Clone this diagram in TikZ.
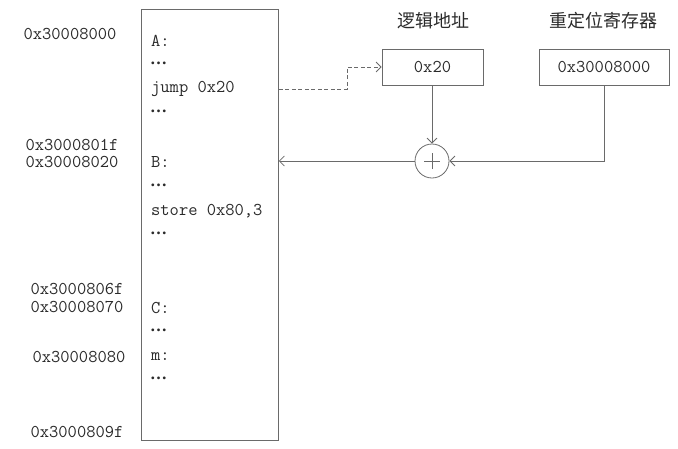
\documentclass[tikz,border=0pt]{standalone}
\usepackage{fontspec}
\newfontfamily\cjk{Noto Sans CJK SC}
\newfontfamily\ser{Liberation Serif}
\usetikzlibrary{arrows.meta}
\definecolor{ln}{HTML}{6A6A6A}
\definecolor{tx}{HTML}{2A2A2A}
\tikzset{
  lat/.style={text=tx, inner sep=0pt, font=\ttfamily\fontsize{18}{18}\selectfont},
  code/.style={lat, anchor=west},
  addr/.style={lat},
  dots/.style={text=tx, inner sep=0pt, anchor=west, font=\ser\bfseries\fontsize{17}{17}\selectfont},
  cn/.style={text=tx, inner sep=0pt, font=\cjk\fontsize{18}{18}\selectfont},
  regbox/.style={draw=ln, line width=0.8pt, minimum height=36, inner sep=0pt, lat},
  conn/.style={draw=ln, line width=0.8pt, -{Straight Barb[length=5pt,width=10pt]}},
}
\begin{document}
\begin{tikzpicture}[x=1pt,y=-1pt]
\useasboundingbox (0,0) rectangle (678,448);
% memory block
\node[draw=ln, line width=0.8pt, minimum width=137, minimum height=431, anchor=north west, inner sep=0pt] (mem) at (141,9) {};
% addresses
\node[addr] (a0) at (70,34) {0x30008000};
\node[addr] (a1) at (72,145) {0x3000801f};
\node[addr] (a2) at (72,162) {0x30008020};
\node[addr] (a3) at (77,289) {0x3000806f};
\node[addr] (a4) at (77,307) {0x30008070};
\node[addr] (a5) at (79,357) {0x30008080};
\node[addr] (a6) at (77,432) {0x3000809f};
% code
\node[code] (cA) at (151,41) {A:};
\node[dots] (d1) at (150,63) {…};
\node[code] (jmp) at (151,89) {jump 0x20};
\node[dots] (d2) at (150,111) {…};
\node[code] (cB) at (151,162) {B:};
\node[dots] (d3) at (150,185) {…};
\node[code] (st) at (151,211) {store 0x80,3};
\node[dots] (d4) at (150,233) {…};
\node[code] (cC) at (151,308) {C:};
\node[dots] (d5) at (150,330) {…};
\node[code] (cm) at (151,357) {m:};
\node[dots] (d6) at (150,378) {…};
% right side
\node[cn] (t1) at (433,21) {逻辑地址};
\node[cn] (t2) at (603,21) {重定位寄存器};
\node[regbox, minimum width=101] (lg) at (432.5,67) {0x20};
\node[regbox, minimum width=130] (rr) at (604,67) {0x30008000};
\node[circle, draw=ln, line width=0.8pt, minimum size=34, inner sep=0pt] (plus) at (432,161) {};
\draw[ln, line width=0.7pt] ([xshift=-8pt]plus.center) -- ([xshift=8pt]plus.center)
  ([yshift=-8pt]plus.center) -- ([yshift=8pt]plus.center);
\coordinate (dk) at (347,89);
% connectors
\draw[conn, dashed, dash pattern=on 4pt off 2.5pt] (mem.east |- jmp) -- (dk) |- (lg.west);
\draw[conn] (lg.south -| plus) -- (plus.north);
\draw[conn] (rr.south) |- (plus.east);
\draw[conn] (plus.west) -- (mem.east |- plus);
\end{tikzpicture}
\end{document}
